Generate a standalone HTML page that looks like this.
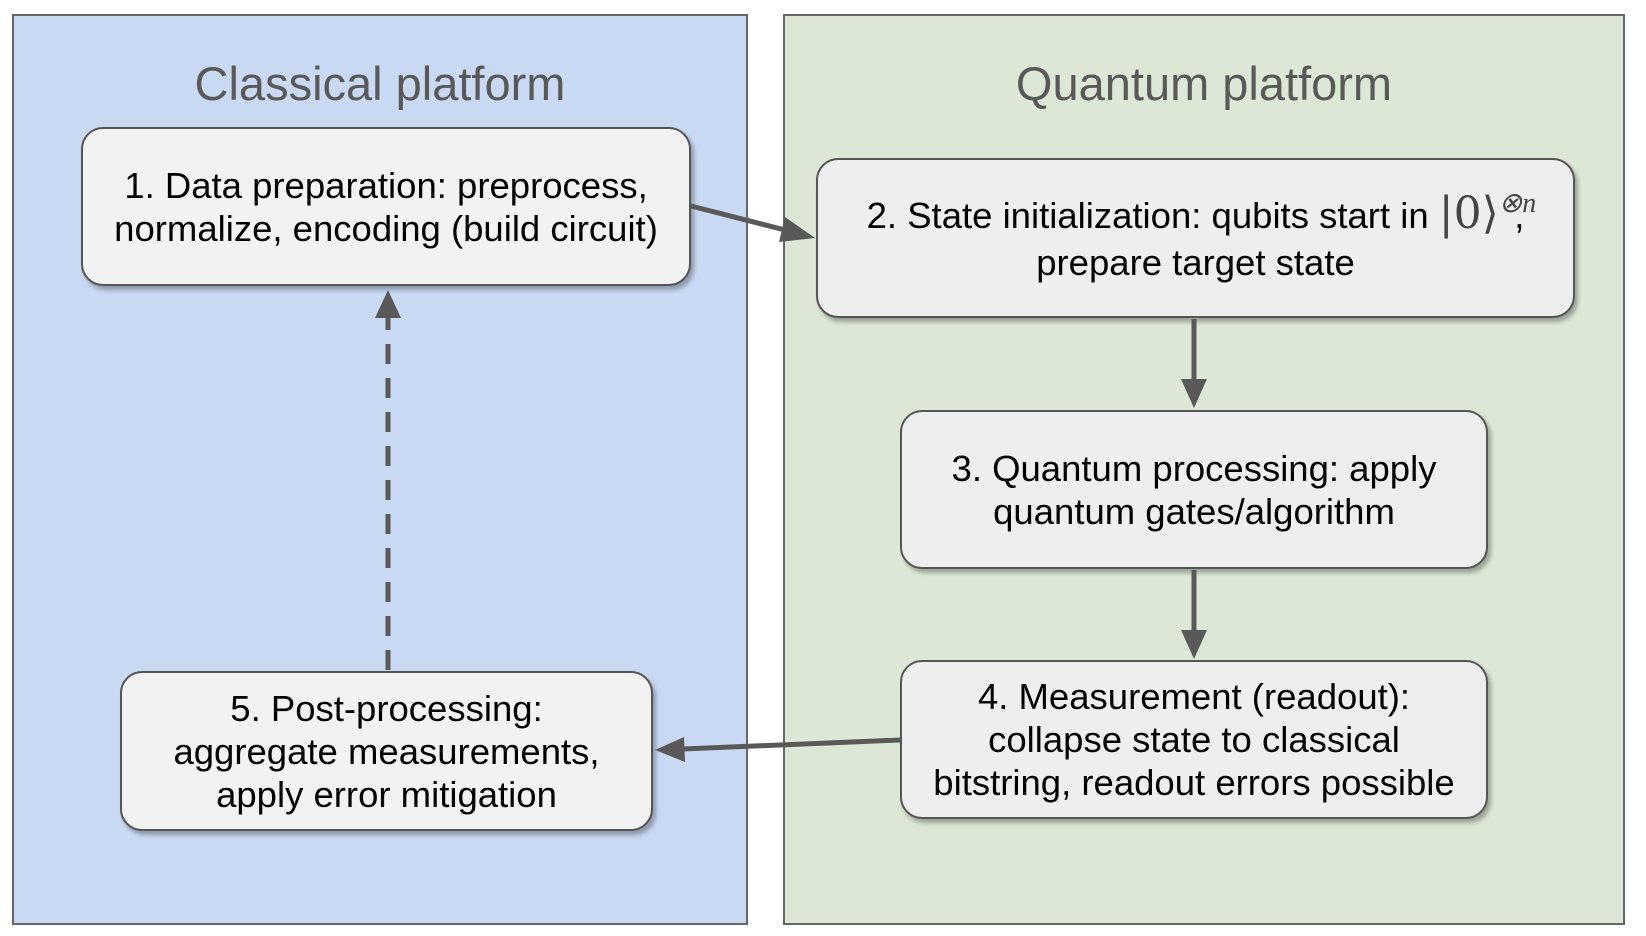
<!DOCTYPE html>
<html><head><meta charset="utf-8"><style>
body{margin:0;width:1646px;height:936px;background:#fff;position:relative;overflow:hidden;font-family:"Liberation Sans",sans-serif}
.panel{position:absolute;border:2px solid #666;box-sizing:border-box}
.title{position:absolute;font-size:47px;color:#595959;text-align:center;width:100%;top:40px}
.box{position:absolute;box-sizing:border-box;border:2px solid #555;border-radius:22px;background:#f2f2f2;box-shadow:3px 4px 4px rgba(0,0,0,0.3);display:flex;align-items:center;justify-content:center;text-align:center;font-size:36.5px;line-height:43px;color:#000}
.box>div{width:100%}
svg{position:absolute;left:0;top:0}
</style></head><body>
<div class="panel" style="left:12px;top:14px;width:736px;height:911px;background:#c9d9f3"><div class="title">Classical platform</div></div>
<div class="panel" style="left:783px;top:14px;width:842px;height:911px;background:#dce8d5"><div class="title">Quantum platform</div></div>
<div class="box" style="left:81px;top:127px;width:610px;height:159px"><div>1. Data preparation: preprocess,<br>normalize, encoding (build circuit)</div></div>
<div class="box" style="left:816px;top:158px;width:759px;height:160px;background:#eee"><div>2. State initialization: qubits start in <span style="font-family:'DejaVu Serif','Liberation Serif',serif;font-size:44px;color:#444">|0⟩</span><span style="font-family:'Liberation Serif',serif;font-style:italic;font-size:28px;color:#444;position:relative;top:-16px">⊗n</span><span style="margin-left:-22px">,</span><br>prepare target state</div></div>
<div class="box" style="left:900px;top:410px;width:588px;height:159px;background:#eee"><div>3. Quantum processing: apply<br>quantum gates/algorithm</div></div>
<div class="box" style="left:900px;top:660px;width:588px;height:159px;background:#eee"><div>4. Measurement (readout):<br>collapse state to classical<br>bitstring, readout errors possible</div></div>
<div class="box" style="left:120px;top:671px;width:533px;height:160px"><div>5. Post-processing:<br>aggregate measurements,<br>apply error mitigation</div></div>
<svg width="1646" height="936">
<g stroke="#595959" stroke-width="5" fill="#595959">
<line x1="691" y1="206" x2="789" y2="231"/>
<polygon points="815,238 785,217 779,242" stroke="none"/>
<line x1="1194" y1="319" x2="1194" y2="380"/>
<polygon points="1194,408 1181,379 1207,379" stroke="none"/>
<line x1="1194" y1="570" x2="1194" y2="631"/>
<polygon points="1194,659 1181,630 1207,630" stroke="none"/>
<line x1="900" y1="740" x2="683" y2="749"/>
<polygon points="655,750 684,737 685,762" stroke="none"/>
<line x1="388" y1="670" x2="388" y2="310" stroke-dasharray="20,14"/>
<polygon points="388,290 375,318 401,318" stroke="none"/>
</g>
</svg>
</body></html>
